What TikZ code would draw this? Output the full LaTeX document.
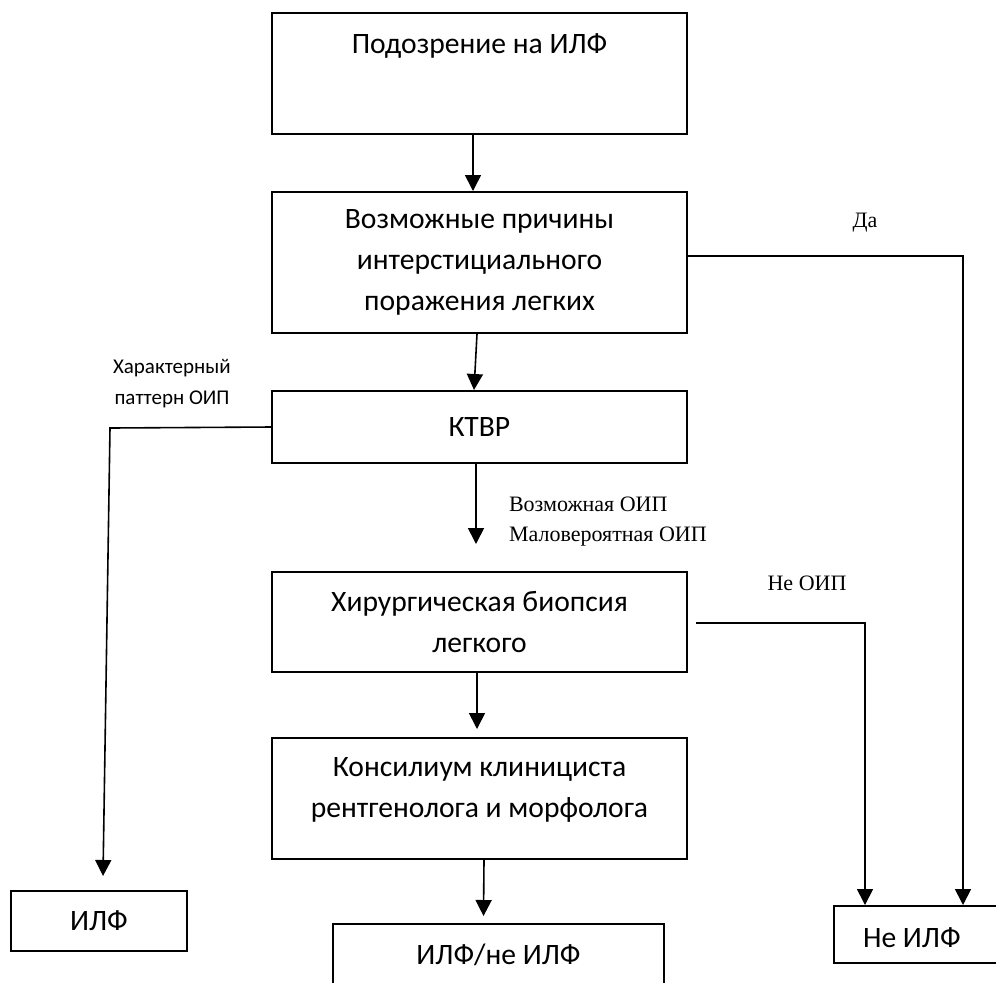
\documentclass[tikz,border=0pt]{standalone}
\usepackage{fontspec}
\setmainfont{Carlito}
\newfontfamily\timesfont{Liberation Serif}
\usetikzlibrary{arrows.meta}

\tikzset{
  box/.style={draw, line width=1pt, inner sep=0pt, minimum width=207.5pt, align=center,
    font=\fontsize{14.8}{20.5}\selectfont},
  txt/.style={align=center, font=\fontsize{14.8}{20.5}\selectfont},
  arr/.style={-{Triangle[length=8pt,width=8pt]}, line width=0.8pt},
  note/.style={align=center, font=\fontsize{10.5}{15.5}\selectfont},
  tnote/.style={align=left, font=\timesfont\fontsize{11}{15}\selectfont},
}

\begin{document}
\begin{tikzpicture}[x=0.5pt, y=-0.5pt]
    \useasboundingbox (0,0) rectangle (996,982);
    \clip (0,0) rectangle (996,982);

    % main column
    \node [box, minimum height=60.5pt] (susp) at (479.5,73.5) {};
    \node [txt] (susptxt) at (479.5,46) {Подозрение на ИЛФ};
    \node [box, minimum height=70.5pt] (cause) at (479.5,262.5)
        {Возможные причины\\интерстициального\\поражения легких};
    \node [box, minimum height=36pt] (ct) at (479.5,427) {КТВР};
    \node [box, minimum height=50pt] (biop) at (479.5,622)
        {Хирургическая биопсия\\легкого};
    \node [box, minimum height=60.5pt] (cons) at (479.5,798.5) {};
    \node [txt] (constxt) at (479.5,789.5) {Консилиум клинициста\\рентгенолога и морфолога};

    % outcomes
    \node [box, minimum width=165.5pt, minimum height=58pt] (res) at (498.5,982) {};
    \node [txt] (restxt) at (498.5,955) {ИЛФ/не ИЛФ};
    \node [box, minimum width=88pt, minimum height=30pt] (ilf) at (99,921) {ИЛФ};
    \node [box, minimum width=88pt, minimum height=28.5pt] (nilf) at (922,934.5) {};
    \node [txt, anchor=west] (nilftxt) at (856,938) {Не ИЛФ};

    % labels
    \node [note] (lpat) at (172,384) {Характерный\\паттерн ОИП};
    \node [tnote, anchor=west] (lposs) at (502,522) {Возможная ОИП\\Маловероятная ОИП};
    \node [tnote] (lyes) at (865,223) {Да};
    \node [tnote] (lnot) at (807,583) {Не ОИП};

    \coordinate (cpat) at (110,428);

    % arrows
    \draw [arr] ([xshift=-3.25pt]susp.south) -- ([xshift=-3.25pt]cause.north);
    \draw [arr] ([xshift=-1.25pt]cause.south) -- ([xshift=-2.75pt]ct.north);
    \draw [arr] ([xshift=-1.75pt]ct.south) -- ([xshift=-1.75pt,yshift=13.5pt]biop.north);
    \draw [arr] ([xshift=-1.25pt]biop.south) -- ([xshift=-1.25pt,yshift=4pt]cons.north);
    \draw [arr] ([xshift=2.25pt]cons.south) -- ([xshift=-7.5pt,yshift=3.5pt]res.north);
    \draw [arr] ([yshift=3.25pt]cause.east) -| ([xshift=20.5pt]nilf.north);
    \draw [arr] ([xshift=4pt,yshift=-0.5pt]biop.east) -| ([xshift=-28.5pt]nilf.north);
    \draw [arr] (ct.west) -- (cpat) -- ([xshift=2pt,yshift=7pt]ilf.north);
\end{tikzpicture}
\end{document}
